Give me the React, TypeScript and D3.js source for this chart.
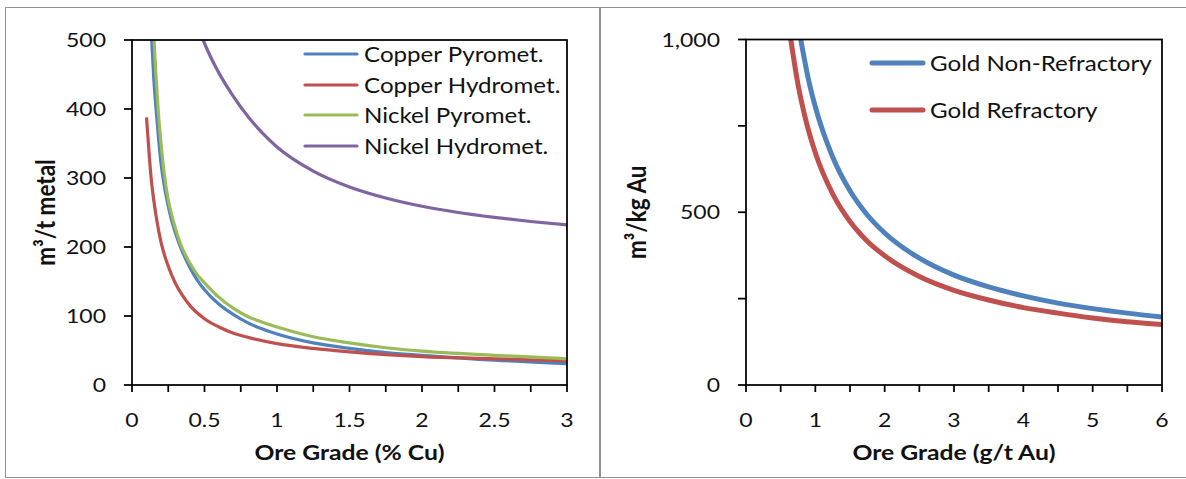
import React from "react";
import * as d3 from "d3";

// ---- Base metals: water use per tonne of metal vs ore grade (% Cu) ----
const cuPyroGrade = [0.136, 0.15, 0.166, 0.18, 0.198, 0.23, 0.262, 0.3, 0.35, 0.4, 0.45, 0.5, 0.6, 0.7, 0.8, 0.9, 1.0, 1.25, 1.5, 1.75, 2.0, 2.5, 3.0];
const cuPyroWater = [500, 445, 400, 365, 325, 280, 248, 220, 192, 170, 152, 138, 117, 102, 90, 81, 74, 61, 53, 47, 43, 36, 31];

const cuHydroGrade = [0.1, 0.12, 0.13, 0.15, 0.17, 0.2, 0.25, 0.3, 0.35, 0.4, 0.5, 0.6, 0.7, 0.8, 1.0, 1.25, 1.5, 1.75, 2.0, 2.5, 3.0];
const cuHydroWater = [388, 330, 304, 268, 240, 207, 172, 147, 129, 115, 96, 84, 75, 69, 60, 53, 48, 44, 41, 38, 35];

const niPyroGrade = [0.152, 0.165, 0.18, 0.2, 0.22, 0.25, 0.283, 0.33, 0.4, 0.45, 0.5, 0.6, 0.7, 0.8, 0.9, 1.0, 1.25, 1.5, 1.75, 2.0, 2.5, 3.0];
const niPyroWater = [500, 450, 400, 350, 310, 268, 239, 207, 176, 160, 148, 127, 111, 99, 91, 84, 70, 61, 54, 49, 43, 38];

const niHydroGrade = [0.49, 0.55, 0.6, 0.7, 0.8, 0.9, 1.0, 1.25, 1.5, 1.75, 2.0, 2.25, 2.5, 2.75, 3.0];
const niHydroWater = [500, 472, 452, 418, 389, 365, 345, 310, 287, 271, 259, 250, 243, 237, 232];

const metalSeries = ["Copper Pyromet.", "Copper Hydromet.", "Nickel Pyromet.", "Nickel Hydromet."];

// ---- Gold: water use per kg Au vs ore grade (g/t Au) ----
const auNonRefGrade = [0.79, 0.9, 1.0, 1.25, 1.5, 1.75, 2.0, 2.5, 3.0, 3.5, 4.0, 4.5, 5.0, 5.5, 6.0];
const auNonRefWater = [1000, 885, 805, 660, 562, 492, 440, 367, 318, 284, 258, 237, 221, 208, 197];

const auRefGrade = [0.646, 0.75, 0.85, 1.0, 1.25, 1.5, 1.75, 2.0, 2.5, 3.0, 3.5, 4.0, 4.5, 5.0, 5.5, 6.0];
const auRefWater = [1000, 870, 777, 672, 553, 473, 416, 374, 314, 274, 246, 224, 208, 194, 183, 175];

const goldSeries = ["Gold Non-Refractory", "Gold Refractory"];

// ---- Axis ticks ----
const cuMinorTicks = d3.range(0, 3.0001, 0.25);
const cuLabelTicks = [0, 0.5, 1, 1.5, 2, 2.5, 3];
const metalYTicks = [0, 100, 200, 300, 400, 500];
const auMinorTicks = d3.range(0, 6.0001, 0.5);
const auLabelTicks = [0, 1, 2, 3, 4, 5, 6];
const goldYTicks = [0, 250, 500, 750, 1000];
const goldYLabels = [0, 500, 1000];

const COLORS = ["#4F81BD", "#C0504D", "#9BBB59", "#8064A2"];
const FONT = "Lato, 'Open Sans', sans-serif";
const SX = 1.15; // horizontal text stretch

type TxtProps = {
  x: number;
  y: number;
  anchor?: "start" | "middle" | "end";
  size: number;
  weight?: number;
  rotate?: boolean;
  children: React.ReactNode;
};

function Txt({ x, y, anchor = "start", size, weight = 400, rotate = false, children }: TxtProps) {
  return (
    <text
      transform={`translate(${x},${y}) scale(${SX},1)${rotate ? " rotate(-90)" : ""}`}
      textAnchor={anchor}
      fontSize={size}
      fontWeight={weight}
      fontFamily={FONT}
      fill="#111"
    >
      {children}
    </text>
  );
}

type Series = { name: string; grade: number[]; water: number[]; color: string };

type PanelProps = {
  box: { x0: number; x1: number; y0: number; y1: number };
  xDomain: [number, number];
  yDomain: [number, number];
  minorX: number[];
  labelX: number[];
  yTicks: number[];
  yLabels: number[];
  yFormat: (v: number) => string;
  xTitle: string;
  yTitle: string;
  yTitleX: number;
  series: Series[];
  lineWidth: number;
  legend: { lx0: number; lx1: number; tx: number; rows: number[]; size: number };
};

function Panel(p: PanelProps) {
  const { box } = p;
  const x = d3.scaleLinear().domain(p.xDomain).range([box.x0, box.x1]);
  const y = d3.scaleLinear().domain(p.yDomain).range([box.y1, box.y0]);
  const line = d3
    .line<[number, number]>()
    .x((d) => x(d[0]))
    .y((d) => y(d[1]))
    .curve(d3.curveMonotoneX);
  const cx = (box.x0 + box.x1) / 2;
  const cy = (box.y0 + box.y1) / 2;

  return (
    <g>
      {p.series.map((s) => (
        <path
          key={s.name}
          d={line(s.grade.map((g, i) => [g, s.water[i]] as [number, number])) || ""}
          fill="none"
          stroke={s.color}
          strokeWidth={p.lineWidth}
          strokeLinejoin="round"
        />
      ))}
      {/* plot frame */}
      <rect
        x={box.x0}
        y={box.y0}
        width={box.x1 - box.x0}
        height={box.y1 - box.y0}
        fill="none"
        stroke="#000"
        strokeWidth={1.75}
      />
      {/* y ticks */}
      {p.yTicks.map((t) => (
        <line key={"yt" + t} x1={box.x0 - 8} x2={box.x0} y1={y(t)} y2={y(t)} stroke="#000" strokeWidth={1.75} />
      ))}
      {p.yLabels.map((t) => (
        <Txt key={"yl" + t} x={box.x0 - 26} y={y(t) + 7} anchor="end" size={20}>
          {p.yFormat(t)}
        </Txt>
      ))}
      {/* x ticks */}
      {p.minorX.map((t) => (
        <line key={"xt" + t} x1={x(t)} x2={x(t)} y1={box.y1} y2={box.y1 + 7} stroke="#000" strokeWidth={1.75} />
      ))}
      {p.labelX.map((t) => (
        <Txt key={"xl" + t} x={x(t)} y={427} anchor="middle" size={20}>
          {String(t)}
        </Txt>
      ))}
      <Txt x={cx} y={460} anchor="middle" size={21.5} weight={700}>
        {p.xTitle}
      </Txt>
      <Txt x={p.yTitleX} y={cy} anchor="middle" size={22.5} weight={700} rotate>
        {p.yTitle}
      </Txt>
      {/* legend */}
      {p.series.map((s, i) => (
        <g key={"lg" + s.name}>
          <line
            x1={p.legend.lx0}
            x2={p.legend.lx1}
            y1={p.legend.rows[i]}
            y2={p.legend.rows[i]}
            stroke={s.color}
            strokeWidth={p.lineWidth}
            strokeLinecap="round"
          />
          <Txt x={p.legend.tx} y={p.legend.rows[i] + 7.5} size={p.legend.size}>
            {s.name}
          </Txt>
        </g>
      ))}
    </g>
  );
}

export default function App() {
  const metal: Series[] = [
    { name: metalSeries[0], grade: cuPyroGrade, water: cuPyroWater, color: COLORS[0] },
    { name: metalSeries[1], grade: cuHydroGrade, water: cuHydroWater, color: COLORS[1] },
    { name: metalSeries[2], grade: niPyroGrade, water: niPyroWater, color: COLORS[2] },
    { name: metalSeries[3], grade: niHydroGrade, water: niHydroWater, color: COLORS[3] },
  ];
  const gold: Series[] = [
    { name: goldSeries[0], grade: auNonRefGrade, water: auNonRefWater, color: COLORS[0] },
    { name: goldSeries[1], grade: auRefGrade, water: auRefWater, color: COLORS[1] },
  ];
  const thousands = d3.format(",");

  return (
    <svg
      width={1186}
      height={479}
      style={{ position: "absolute", left: 0, top: 0, background: "#fff" }}
    >
      <rect x={0} y={0} width={1186} height={479} fill="#fff" />
      {/* dotted panel borders */}
      <rect x={5.5} y={7.5} width={594} height={470} fill="none" stroke="#222" strokeWidth={1} strokeDasharray="1 1" />
      <rect x={600.5} y={7.5} width={600} height={470} fill="none" stroke="#222" strokeWidth={1} strokeDasharray="1 1" />

      <Panel
        box={{ x0: 132, x1: 567, y0: 40, y1: 385 }}
        xDomain={[0, 3]}
        yDomain={[0, 500]}
        minorX={cuMinorTicks}
        labelX={cuLabelTicks}
        yTicks={metalYTicks}
        yLabels={metalYTicks}
        yFormat={(v) => String(v)}
        xTitle="Ore Grade (% Cu)"
        yTitle="m³/t metal"
        yTitleX={55}
        series={metal}
        lineWidth={3.2}
        legend={{ lx0: 305, lx1: 357, tx: 364, rows: [54, 85, 115, 146], size: 21 }}
      />
      <Panel
        box={{ x0: 746, x1: 1162, y0: 39.5, y1: 385 }}
        xDomain={[0, 6]}
        yDomain={[0, 1000]}
        minorX={auMinorTicks}
        labelX={auLabelTicks}
        yTicks={goldYTicks}
        yLabels={goldYLabels}
        yFormat={(v) => thousands(v)}
        xTitle="Ore Grade (g/t Au)"
        yTitle="m³/kg Au"
        yTitleX={646}
        series={gold}
        lineWidth={5}
        legend={{ lx0: 872, lx1: 923, tx: 930, rows: [63, 110], size: 21 }}
      />
    </svg>
  );
}
